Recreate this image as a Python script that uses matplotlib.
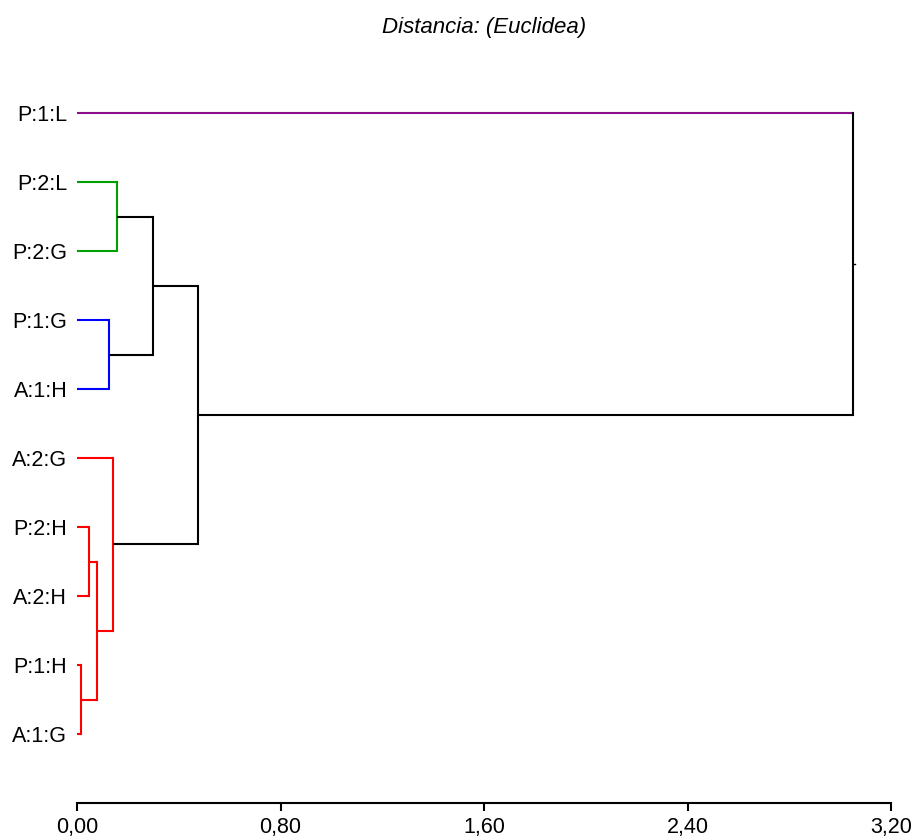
import matplotlib
matplotlib.use('Agg')
from matplotlib import pyplot as plt
from matplotlib.ticker import FuncFormatter

plt.rcParams['font.family'] = ['Liberation Sans', 'DejaVu Sans']

# hojas, de arriba hacia abajo
labels = ['P:1:L', 'P:2:L', 'P:2:G', 'P:1:G', 'A:1:H',
          'A:2:G', 'P:2:H', 'A:2:H', 'P:1:H', 'A:1:G']
leaf_colors = {0: '#8b0f8b'}

# uniones: (nodo izq, nodo der, distancia, color) -> nodos 10, 11, ...
merge_left = [8, 6, 11, 5, 3, 1, 15, 16, 0]
merge_right = [9, 7, 10, 12, 4, 2, 14, 13, 17]
merge_dist = [0.016, 0.048, 0.080, 0.143, 0.127, 0.158, 0.300, 0.474, 3.051]
merge_color = ['#ff0000', '#ff0000', '#ff0000', '#ff0000', '#0000ff',
               '#00a000', 'black', 'black', 'black']

xticks = [0.0, 0.8, 1.6, 2.4, 3.2]

fig = plt.figure(figsize=(9.15, 8.38), dpi=100)
ax = fig.add_axes([77 / 915, 1 - 803 / 838, 814 / 915, (803 - 44.2) / 838])

n = len(labels)
ypos = {i: i for i in range(n)}
xpos = {i: 0.0 for i in range(n)}
lw = 1.5
for k in range(len(merge_dist)):
    node = n + k
    a, b, d, c = merge_left[k], merge_right[k], merge_dist[k], merge_color[k]
    for child in (a, b):
        hc = leaf_colors.get(child, c)
        ax.plot([xpos[child], d], [ypos[child], ypos[child]], color=hc, lw=lw,
                solid_capstyle='butt', clip_on=False)
    ax.plot([d, d], [ypos[a], ypos[b]], color=c, lw=lw,
            solid_capstyle='projecting', clip_on=False)
    ypos[node] = (ypos[a] + ypos[b]) / 2
    xpos[node] = d

# pequeño tramo de la raíz
root = n + len(merge_dist) - 1
ax.plot([xpos[root], xpos[root] + 0.008], [ypos[root], ypos[root]],
        color='black', lw=1.0, clip_on=False)

ax.set_xlim(0, 3.2)
ax.set_ylim(10, -1)
ax.set_xticks(xticks)
ax.xaxis.set_major_formatter(FuncFormatter(lambda v, p: ('%.2f' % v).replace('.', ',')))
ax.set_yticks(range(n))
ax.set_yticklabels(labels)

for s in ('left', 'right', 'top'):
    ax.spines[s].set_visible(False)
ax.spines['bottom'].set_linewidth(1.5)
ax.tick_params(axis='x', length=6, width=1.5, pad=4, labelsize=15.5)
ax.tick_params(axis='y', length=0, pad=7, labelsize=15.5)

fig.text(484 / 915, 1 - 27 / 838, 'Distancia: (Euclidea)', ha='center', va='center',
         fontsize=16, style='italic')

plt.savefig('out.png', dpi=100)
